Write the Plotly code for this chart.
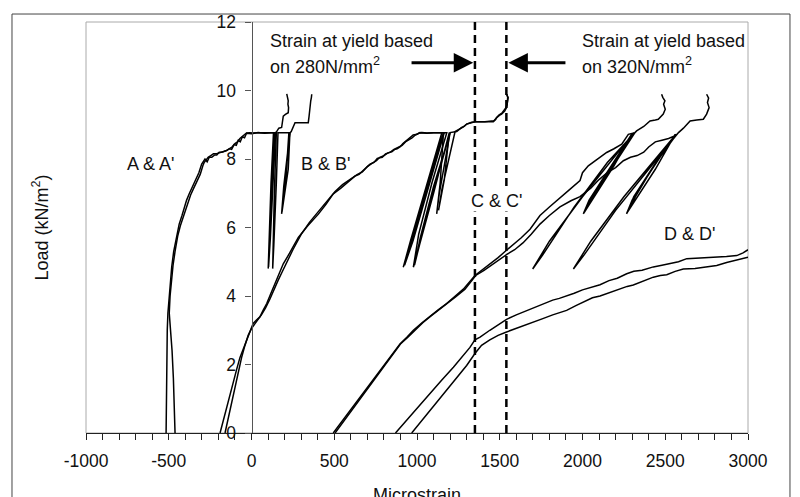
import plotly.graph_objects as go

# ---------------- data (microstrain, load kN/m2) ----------------
A_x = [-516,-515,-513,-511,-509,-505,-498,-490,-482,-470,-452,-437,-420,-405,-392,-375,-361,-345,-331,-318,-301,-290,-281,-268,-255,-240,-222,-210,-195,-180,-165,-150,-132,-120,-105,-92,-80,-68,-55,-42,-30,-15,0,40,80,120,133,
       118,104,101,108,122,140, 128,110,103,114,130,146, 152,165,182,186,192,205,222,224,220,222,216,213]
A_y = [0,0.8,1.6,2.4,3.0,3.5,4.0,4.5,4.85,5.3,5.8,6.1,6.35,6.6,6.8,7.0,7.15,7.3,7.45,7.6,7.85,7.95,8.0,7.92,8.05,8.05,8.12,8.12,8.2,8.2,8.22,8.25,8.3,8.28,8.42,8.4,8.55,8.5,8.65,8.62,8.75,8.75,8.74,8.77,8.75,8.77,8.77,
       7.3,5.5,4.8,5.6,7.4,8.77, 7.2,5.4,4.85,5.7,7.3,8.77, 8.8,8.9,8.92,9.1,9.25,9.3,9.35,9.5,9.6,9.7,9.8,9.9]

A2_x = [-462,-466,-472,-480,-490,-497,-492,-484,-474,-462,-446,-430,-413,-398,-384,-368,-354,-338,-323,-310,-294,-286,-276,-262,-246,-230,-215,-200,-185,-168,-150,-135,-118,-100,-85,-70,-58,-45,-30,-10,10,50,100,140,150,
        138,131,128,135,150,160, 200,226, 210,188,182,195,232, 222,186,184,200,234, 240,253,263,300,343,348,353,358,362,364]
A2_y = [0,0.8,1.6,2.4,3.0,3.5,4.0,4.5,4.9,5.3,5.75,6.05,6.3,6.55,6.75,6.95,7.1,7.25,7.4,7.55,7.8,7.9,7.96,8.05,8.1,8.15,8.15,8.18,8.2,8.22,8.25,8.3,8.35,8.45,8.5,8.6,8.65,8.72,8.76,8.77,8.76,8.77,8.77,8.77,8.77,
        7.0,5.3,4.8,5.5,7.3,8.77, 8.77,8.77, 7.6,6.6,6.4,7.2,8.77, 7.7,6.6,6.45,7.3,8.77, 8.8,8.92,9.06,9.06,9.06,9.25,9.55,9.7,9.8,9.89]

B_x = [-190,-170,-150,-130,-110,-90,-70,-50,-30,-9,10,30,51,70,92,115,142,165,192,230,283,340,404,450,494,540,595,625,650,680,716,740,760,790,810,840,860,880,897,915,937,955,977,1000,1018,1060,1100,1150,
       1060,960,917,950,1045,1165, 1070,975,925,960,1050,1160, 1140,1119,1135,1200, 1240,1270,1285,1300,1325,1350,1400,1461,1475,1481,1500,1511,1530,1541,1551,1545,1541]
B_y = [0,0.38,0.77,1.15,1.5,1.85,2.2,2.45,2.75,3.0,3.2,3.3,3.39,3.58,3.78,4.05,4.36,4.62,4.94,5.25,5.71,6.05,6.39,6.68,6.98,7.15,7.37,7.5,7.55,7.7,7.85,7.9,8.02,8.05,8.15,8.2,8.28,8.3,8.35,8.45,8.53,8.6,8.7,8.72,8.77,8.75,8.77,8.77,
       7.3,5.6,4.84,5.4,7.0,8.77, 7.2,5.6,4.9,5.5,7.0,8.77, 7.3,6.4,7.0,8.77, 8.8,8.92,8.95,9.02,9.05,9.09,9.09,9.09,9.15,9.21,9.28,9.31,9.4,9.5,9.79,9.85,9.89]

B2_x = [-160,-140,-120,-100,-80,-60,-40,-20,0,20,40,60,85,110,135,160,185,215,250,300,350,410,460,505,550,600,640,670,700,730,755,775,800,825,850,870,890,910,930,950,970,990,1010,1030,1060,1100,1140,1180,
        1090,1010,978,1005,1090,1200, 1100,1020,985,1010,1100,1195, 1165,1130,1150,1230, 1250,1275,1300,1330,1360,1410,1465,1480,1495,1515,1535,1545,1548,1543]
B2_y = [0,0.45,0.9,1.35,1.8,2.2,2.55,2.85,3.05,3.2,3.32,3.45,3.65,3.9,4.2,4.45,4.7,5.0,5.35,5.8,6.15,6.5,6.8,7.05,7.25,7.42,7.55,7.62,7.78,7.88,7.95,8.05,8.1,8.18,8.22,8.3,8.35,8.4,8.5,8.55,8.62,8.7,8.75,8.77,8.76,8.77,8.77,8.77,
        7.3,5.8,4.84,5.3,6.9,8.77, 7.2,5.7,4.9,5.4,7.0,8.77, 7.4,6.5,7.1,8.8, 8.85,8.92,9.02,9.07,9.09,9.09,9.12,9.2,9.28,9.35,9.48,9.6,9.8,9.89]

C_x = [494,550,600,650,700,776,840,897,940,978,1030,1080,1130,1179,1230,1280,1350,1400,1441,1490,1532,1582,1630,1683,1743,1800,1864,1920,1985,2000,2035,2080,2146,2190,2237,2277,2317,
       2200,2080,2005,2040,2160,2300, 2190,2070,2012,2060,2180,2310, 2000,1800,1699,1760,1950,2150,2317,
       2327,2370,2408,2440,2458,2488,2500,2490,2498,2485,2478]
C_y = [0,0.36,0.69,1.02,1.35,1.83,2.23,2.6,2.8,3.0,3.22,3.42,3.6,3.78,3.98,4.2,4.6,4.78,4.95,5.12,5.3,5.5,5.7,5.95,6.35,6.6,6.88,7.1,7.37,7.6,7.8,7.95,8.19,8.3,8.43,8.72,8.77,
       7.9,7.0,6.4,6.8,7.7,8.75, 7.8,6.9,6.45,6.9,7.8,8.77, 6.9,5.6,4.79,5.2,6.6,7.9,8.77,
       8.82,8.95,9.11,9.14,9.16,9.31,9.45,9.6,9.7,9.8,9.89]

C2_x = [505,560,610,660,710,780,845,900,945,985,1035,1085,1135,1185,1235,1290,1355,1405,1450,1500,1545,1590,1640,1690,1743,1800,1864,1930,1985,2050,2100,2150,2200,2247,2290,2330,2370,2400,2440,2480,2520,2560,2569,
        2430,2320,2266,2300,2420,2560, 2440,2330,2272,2310,2430,2565, 2250,2050,1945,2010,2200,2400,2580,
        2610,2650,2690,2730,2750,2765,2755,2762,2750]
C2_y = [0,0.36,0.69,1.02,1.35,1.83,2.23,2.6,2.8,3.0,3.22,3.42,3.6,3.78,3.98,4.2,4.6,4.75,4.9,5.08,5.22,5.35,5.55,5.8,6.1,6.35,6.6,6.78,6.9,7.15,7.4,7.6,7.75,7.95,8.05,8.1,8.2,8.35,8.5,8.55,8.6,8.68,8.72,
        7.8,6.9,6.4,6.8,7.7,8.72, 7.7,6.9,6.45,6.9,7.8,8.72, 6.9,5.6,4.79,5.2,6.5,7.7,8.77,
        8.9,9.11,9.14,9.16,9.31,9.5,9.65,9.78,9.89]

D_x = [870,950,1000,1079,1150,1220,1280,1320,1350,1381,1440,1490,1541,1600,1650,1703,1760,1820,1860,1904,1950,2000,2050,2106,2160,2210,2267,2310,2360,2428,2480,2530,2580,2630,2690,2750,2800,2870,2932,2970,3000]
D_y = [0,0.45,0.74,1.17,1.55,1.92,2.25,2.5,2.72,2.8,3.0,3.15,3.32,3.45,3.55,3.65,3.75,3.88,3.93,4.0,4.08,4.18,4.25,4.33,4.45,4.52,4.65,4.72,4.75,4.85,4.9,4.94,5.0,5.09,5.1,5.13,5.13,5.15,5.18,5.26,5.35]

D2_x = [968,1030,1100,1179,1240,1300,1350,1370,1390,1440,1490,1541,1600,1650,1703,1760,1820,1860,1904,1960,2025,2060,2106,2160,2227,2270,2307,2360,2428,2470,2509,2560,2609,2680,2750,2811,2871,2930,3000]
D2_y = [0,0.37,0.8,1.25,1.62,1.97,2.32,2.45,2.56,2.72,2.85,2.95,3.05,3.15,3.24,3.34,3.45,3.52,3.58,3.72,3.88,3.95,4.0,4.1,4.22,4.28,4.32,4.42,4.55,4.6,4.62,4.72,4.79,4.8,4.84,4.89,4.98,5.04,5.13]

yield_strain = [1350, 1540]          # strain at yield, 280 and 320 N/mm2
x_ticks = [-1000, -500, 0, 500, 1000, 1500, 2000, 2500, 3000]
y_ticks = [0, 2, 4, 6, 8, 10, 12]

FONT = "Liberation Sans, Arial, sans-serif"
TXT = 18
fig = go.Figure()

for xs, ys in [(A_x, A_y), (A2_x, A2_y), (B_x, B_y), (B2_x, B2_y),
               (C_x, C_y), (C2_x, C2_y), (D_x, D_y), (D2_x, D2_y)]:
    fig.add_trace(go.Scatter(x=xs, y=ys, mode="lines",
                             line=dict(color="black", width=1.5),
                             showlegend=False, hoverinfo="skip"))

for xv in yield_strain:
    fig.add_trace(go.Scatter(x=[xv, xv], y=[0, 12], mode="lines",
                             line=dict(color="black", width=2.5, dash="8px,5px"),
                             showlegend=False, hoverinfo="skip"))

ann = []
def txt(x, y, s, xanchor="center", bg=None):
    d = dict(x=x, y=y, xref="x", yref="y", text=s, showarrow=False,
             xanchor=xanchor, yanchor="middle",
             font=dict(family=FONT, size=TXT, color="#111"))
    if bg:
        d["bgcolor"] = bg
        d["borderpad"] = 0
    ann.append(d)

txt(100, 11.44, "Strain at yield based", "left")
txt(100, 10.72, "on 280N/mm<sup>2</sup>", "left")
txt(1985, 11.44, "Strain at yield based", "left")
txt(1985, 10.72, "on 320N/mm<sup>2</sup>", "left")
txt(-613, 7.86, "A &amp; A'")
txt(450, 7.86, "B &amp; B'")
txt(1483, 6.78, "C &amp; C'", bg="white")
txt(2644, 5.82, "D &amp; D'")

# arrows
ann.append(dict(x=1340, y=10.81, ax=958, ay=10.81, xref="x", yref="y", axref="x", ayref="y",
                showarrow=True, arrowhead=2, arrowsize=1.3, arrowwidth=3, arrowcolor="black",
                standoff=0, text=""))
ann.append(dict(x=1552, y=10.81, ax=1906, ay=10.81, xref="x", yref="y", axref="x", ayref="y",
                showarrow=True, arrowhead=2, arrowsize=1.3, arrowwidth=3, arrowcolor="black",
                standoff=0, text=""))

# axis titles
ann.append(dict(x=-0.068, y=0.5, xref="paper", yref="paper", text="Load (kN/m<sup>2</sup>)",
                textangle=-90, showarrow=False, xanchor="center", yanchor="middle",
                font=dict(family=FONT, size=TXT, color="#111")))
ann.append(dict(x=0.5, y=-0.152, xref="paper", yref="paper", text="Microstrain",
                showarrow=False, xanchor="center", yanchor="middle",
                font=dict(family=FONT, size=TXT, color="#111")))

shapes = [
    dict(type="rect", xref="paper", yref="paper", x0=0, x1=1, y0=0, y1=1,
         line=dict(color="#aaaaaa", width=1), layer="below"),
    dict(type="rect", xref="paper", yref="paper", x0=-0.1118, x1=1.0634, y0=-0.3, y1=1.0194,
         line=dict(color="#444444", width=1), layer="above"),
]

fig.update_layout(
    width=800, height=497,
    margin=dict(l=86, r=52, t=20, b=64),
    paper_bgcolor="white", plot_bgcolor="white",
    font=dict(family=FONT, size=17.5, color="#111"),
    annotations=ann, shapes=shapes,
    xaxis=dict(range=[-1000, 3000], tickvals=x_ticks, ticktext=[str(v) for v in x_ticks],
               showgrid=False, zeroline=False, showline=True, linecolor="#222", linewidth=1.2,
               ticks="outside", ticklen=6, tickcolor="#222",
               minor=dict(dtick=100, ticks="outside", ticklen=6, tickcolor="#222"),
               ticklabelstandoff=6, tickfont=dict(size=17.5)),
    yaxis=dict(range=[0, 12], tickvals=y_ticks, anchor="free", position=0.25,
               showgrid=False, zeroline=False, showline=True, linecolor="#555", linewidth=1.2,
               ticks="outside", ticklen=6, tickcolor="#555",
               ticklabelstandoff=6, tickfont=dict(size=17.5)),
)

fig.write_html("out.html", config={"displayModeBar": False},
               post_script="document.body.style.margin='0';document.body.style.padding='0';")
